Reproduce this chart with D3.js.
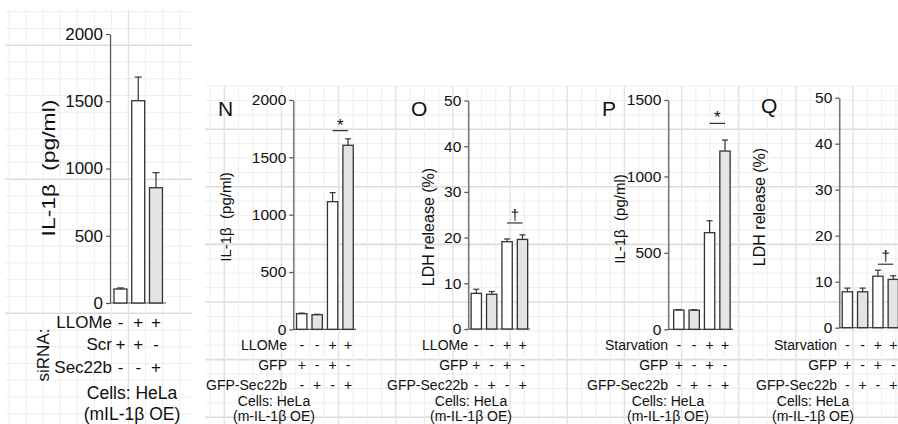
<!DOCTYPE html>
<html>
<head>
<meta charset="utf-8">
<script src="https://cdn.jsdelivr.net/npm/d3@7"></script>
<style>
body { margin: 0; background: #fff; }
svg { display: block; font-family: "Liberation Sans", Arial, sans-serif; }
</style>
</head>
<body>
<svg id="chart" width="898" height="424"></svg>
<script>
// ---- data ----
// panel M (siRNA)
var mLLOMe = ['-', '+', '+'];
var mScr = ['+', '+', '-'];
var mSec22b = ['-', '-', '+'];
var mValues = [104, 1504, 857];
var mErrors = [8, 176, 112];
var mGray = [0, 0, 1];
var mTicks = [0, 500, 1000, 1500, 2000];

// panels N-Q share the treatment layout
var treat = ['-', '-', '+', '+'];
var gfp = ['+', '-', '+', '-'];
var gfpSec22b = ['-', '+', '-', '+'];
var grayBars = [0, 1, 0, 1];

var nValues = [136, 127, 1113, 1605];
var nErrors = [5, 4, 79, 56];
var nTicks = [0, 500, 1000, 1500, 2000];

var oValues = [7.8, 7.6, 19.1, 19.6];
var oErrors = [0.9, 0.6, 0.6, 1.0];
var oTicks = [0, 10, 20, 30, 40, 50];

var pValues = [126, 125, 632, 1166];
var pErrors = [3, 3, 78, 72];
var pTicks = [0, 500, 1000, 1500];

var qValues = [7.8, 7.8, 11.2, 10.5];
var qErrors = [0.8, 0.8, 1.3, 0.8];
var qTicks = [0, 10, 20, 30, 40, 50];

var svg = d3.select('#chart');

// ---- graph paper background ----
function gridArea(x0, x1, y0, y1, dx, dy, vx, vy, thickX, thickY) {
	var g = svg.append('g');
	for (var k = 0; vy + k * dy <= y1; ++k) {
		var yy = vy + k * dy;
		if (yy < y0) continue;
		var thick = thickY(k);
		g.append('line').attr('x1', x0).attr('x2', x1).attr('y1', yy).attr('y2', yy)
			.attr('stroke', thick ? '#dcdcdc' : '#eeeeee').attr('stroke-width', thick ? 1.6 : 1);
	}
	for (var k = 0; vx + k * dx <= x1; ++k) {
		var xx = vx + k * dx;
		if (xx < x0) continue;
		var thick = thickX(k);
		g.append('line').attr('x1', xx).attr('x2', xx).attr('y1', y0).attr('y2', y1)
			.attr('stroke', thick ? '#e2e2e2' : '#eeeeee').attr('stroke-width', thick ? 1.4 : 1);
	}
}
gridArea(5, 192, 10, 424, 17.07, 16.75, 9, 11.7,
	function(k) { return k % 8 == 7; }, function(k) { return k % 8 == 2; });
gridArea(205, 898, 86, 424, 14.29, 14.4, 210, 86,
	function(k) { return k % 4 == 1; }, function(k) { return k % 4 == 3; });

// ---- text helper ----
function label(x, y, txt, size, anchor) {
	return svg.append('text').attr('x', x).attr('y', y).attr('dy', '0.35em')
		.attr('font-size', size).attr('fill', '#111')
		.attr('text-anchor', anchor || 'middle').text(txt);
}

// ---- panel ----
function panel(p) {
	var g = svg.append('g');
	var n = p.values.length;
	var x = d3.scaleBand().domain(d3.range(n))
		.range([p.x0, p.x0 + p.step * n]).paddingInner(p.pad).paddingOuter(p.pad / 2);
	var y = d3.scaleLinear().domain([0, p.max]).range([p.y0, p.yTop]);
	var cx = function(i) { return x(i) + x.bandwidth() / 2; };

	var ax = g.append('g').attr('transform', 'translate(' + p.axisX + ',0)')
		.call(d3.axisLeft(y).tickValues(p.ticks).tickFormat(d3.format('d'))
			.tickSize(4).tickPadding(3).tickSizeOuter(0));
	ax.attr('font-family', null).attr('font-size', p.tickFont);
	ax.selectAll('path, line').attr('stroke', '#555').attr('stroke-width', 1.2);
	ax.selectAll('text').attr('fill', '#111');

	// baseline
	g.append('line').attr('x1', p.axisX).attr('x2', p.baseEnd)
		.attr('y1', y(0)).attr('y2', y(0)).attr('stroke', '#555').attr('stroke-width', 1.2);

	g.selectAll('rect.bar').data(p.values).join('rect').attr('class', 'bar')
		.attr('x', function(d, i) { return x(i); })
		.attr('y', function(d) { return y(d); })
		.attr('width', x.bandwidth())
		.attr('height', function(d) { return y(0) - y(d); })
		.attr('fill', function(d, i) { return p.gray[i] ? '#e4e4e4' : '#fff'; })
		.attr('stroke', '#333').attr('stroke-width', 1.3);

	// error bars
	var eg = g.append('g').attr('stroke', '#333').attr('stroke-width', 1.2);
	p.values.forEach(function(v, i) {
		var top = y(v + p.errors[i]);
		eg.append('line').attr('x1', cx(i)).attr('x2', cx(i)).attr('y1', y(v)).attr('y2', top);
		eg.append('line').attr('x1', cx(i) - p.cap / 2).attr('x2', cx(i) + p.cap / 2)
			.attr('y1', top).attr('y2', top);
	});

	// significance mark
	if (p.sig) {
		var sy = y(p.sig.level);
		g.append('line').attr('x1', cx(2)).attr('x2', cx(3)).attr('y1', sy).attr('y2', sy)
			.attr('stroke', '#333').attr('stroke-width', 1.2);
		g.append('text').attr('x', (cx(2) + cx(3)) / 2).attr('y', sy + p.sig.dy)
			.attr('text-anchor', 'middle').attr('font-size', p.sig.size).attr('fill', '#111')
			.text(p.sig.mark);
	}

	// treatment rows
	p.rows.forEach(function(r, j) {
		label(p.rowEnd, p.rowY[j], r.name, p.rowFont, 'end');
		r.signs.forEach(function(s, i) {
			label(cx(i), p.rowY[j], s, p.rowFont);
		});
	});

	// y label
	var yl = svg.append('text')
		.attr('transform', 'translate(' + p.ylab[0] + ',' + p.ylab[1] + ') rotate(-90)')
		.attr('dy', '0.35em').attr('text-anchor', 'middle')
		.attr('font-size', p.ylabFont).attr('fill', '#111')
		.attr('xml:space', 'preserve').text(p.ylabel);
	if (p.ylabLen) yl.attr('textLength', p.ylabLen).attr('lengthAdjust', 'spacingAndGlyphs');

	label(p.cellX, p.cellY[0], 'Cells: HeLa', p.cellFont);
	label(p.cellX, p.cellY[1], p.cellLine, p.cellFont);
	if (p.letter) {
		svg.append('text').attr('x', p.letter[0]).attr('y', p.letter[1])
			.attr('font-size', 21).attr('fill', '#111').text(p.letter[2]);
	}
}

var rightRowY = [345, 365, 385];
var rightCellY = [401, 416];

panel({
	values: mValues, errors: mErrors, gray: mGray, ticks: mTicks, max: 2000,
	x0: 111.6, step: 17.75, pad: 0.27, axisX: 110, baseEnd: 166, y0: 303, yTop: 34,
	tickFont: 17, cap: 7,
	rows: [{name: 'LLOMe', signs: mLLOMe}, {name: 'Scr', signs: mScr}, {name: 'Sec22b', signs: mSec22b}],
	rowY: [322, 344, 367], rowEnd: 112, rowFont: 17,
	ylabel: 'IL-1\u03b2  (pg/ml)', ylab: [49, 168], ylabFont: 18, ylabLen: 137,
	cellX: 132, cellY: [393, 414], cellFont: 17.5, cellLine: '(mIL-1\u03b2 OE)'
});
svg.append('text').attr('transform', 'translate(43,355) rotate(-90)').attr('dy', '0.35em')
	.attr('text-anchor', 'middle').attr('font-size', 17).attr('fill', '#111').text('siRNA:');

panel({
	values: nValues, errors: nErrors, gray: grayBars, ticks: nTicks, max: 2000,
	x0: 294, step: 15.45, pad: 0.33, axisX: 293.3, baseEnd: 356, y0: 329.3, yTop: 100,
	tickFont: 15.5, cap: 6,
	sig: {level: 1733, mark: '*', dy: 0, size: 17},
	rows: [{name: 'LLOMe', signs: treat}, {name: 'GFP', signs: gfp}, {name: 'GFP-Sec22b', signs: gfpSec22b}],
	rowY: rightRowY, rowEnd: 287, rowFont: 14,
	ylabel: 'IL-1\u03b2  (pg/ml)', ylab: [226, 217], ylabFont: 15,
	cellX: 274, cellY: rightCellY, cellFont: 14, cellLine: '(m-IL-1\u03b2 OE)',
	letter: [218, 116, 'N']
});

panel({
	values: oValues, errors: oErrors, gray: grayBars, ticks: oTicks, max: 50,
	x0: 468.6, step: 15.4, pad: 0.33, axisX: 468.3, baseEnd: 530, y0: 329, yTop: 100.5,
	tickFont: 15.5, cap: 6,
	sig: {level: 23.2, mark: '\u2020', dy: -3, size: 15},
	rows: [{name: 'LLOMe', signs: treat}, {name: 'GFP', signs: gfp}, {name: 'GFP-Sec22b', signs: gfpSec22b}],
	rowY: rightRowY, rowEnd: 468, rowFont: 14,
	ylabel: 'LDH release (%)', ylab: [428, 227], ylabFont: 16,
	cellX: 471, cellY: rightCellY, cellFont: 14, cellLine: '(m-IL-1\u03b2 OE)',
	letter: [411, 116, 'O']
});

panel({
	values: pValues, errors: pErrors, gray: grayBars, ticks: pTicks, max: 1500,
	x0: 671.1, step: 15.4, pad: 0.33, axisX: 668.3, baseEnd: 733, y0: 329.3, yTop: 100,
	tickFont: 15.5, cap: 6,
	sig: {level: 1347, mark: '*', dy: 0, size: 17},
	rows: [{name: 'Starvation', signs: treat}, {name: 'GFP', signs: gfp}, {name: 'GFP-Sec22b', signs: gfpSec22b}],
	rowY: rightRowY, rowEnd: 668, rowFont: 14,
	ylabel: 'IL-1\u03b2  (pg/ml)', ylab: [620, 219], ylabFont: 15,
	cellX: 668, cellY: rightCellY, cellFont: 14, cellLine: '(m-IL-1\u03b2 OE)',
	letter: [602, 116, 'P']
});

panel({
	values: qValues, errors: qErrors, gray: grayBars, ticks: qTicks, max: 50,
	x0: 839.7, step: 15.3, pad: 0.33, axisX: 839.3, baseEnd: 902, y0: 327.7, yTop: 97.7,
	tickFont: 15.5, cap: 6,
	sig: {level: 13.8, mark: '\u2020', dy: -3, size: 15},
	rows: [{name: 'Starvation', signs: treat}, {name: 'GFP', signs: gfp}, {name: 'GFP-Sec22b', signs: gfpSec22b}],
	rowY: rightRowY, rowEnd: 837, rowFont: 14,
	ylabel: 'LDH release (%)', ylab: [759, 207], ylabFont: 16,
	cellX: 813, cellY: rightCellY, cellFont: 14, cellLine: '(m-IL-1\u03b2 OE)',
	letter: [761, 113, 'Q']
});
</script>
</body>
</html>
